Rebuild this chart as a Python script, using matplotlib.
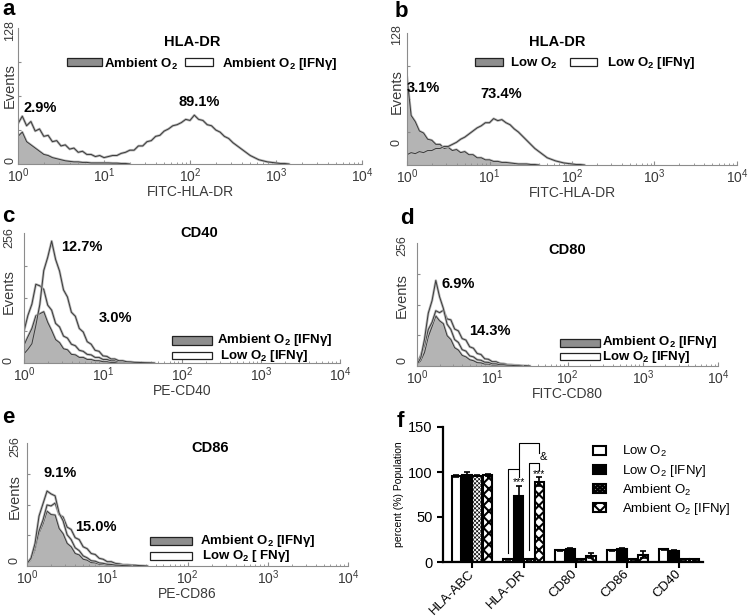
import numpy as np
import matplotlib.pyplot as plt
from matplotlib.patches import Rectangle

plt.rcParams['font.family'] = ['Liberation Sans', 'DejaVu Sans']
plt.rcParams['mathtext.fontset'] = 'custom'
plt.rcParams['mathtext.rm'] = 'Liberation Sans'
plt.rcParams['mathtext.it'] = 'Liberation Sans:italic'
plt.rcParams['mathtext.bf'] = 'Liberation Sans:bold'

W, H = 750, 616
STEP = 0.05  # channel width in decades, channels start at 10^0

# ---- histogram counts (events per channel) ----
# a: HLA-DR, ambient O2
a_amb = [26, 30, 21, 18, 15, 12, 9, 8, 6, 5, 4, 3, 2.5, 2, 2, 1.5, 1.5, 1, 1, 1,
         1, 1, 0.8, 0.8, 0.5, 0.5, 0]
a_amb_ifn = [38, 45, 36, 40, 31, 33, 26, 27, 21, 22, 17, 18, 14, 15, 11, 12, 9, 9,
             7, 8, 6, 7, 8, 8, 10, 11, 13, 13, 17, 17, 21, 22, 26, 27, 31, 33, 36,
             37, 39, 42, 41, 46, 42, 41, 37, 36, 32, 30, 26, 24, 20, 17, 14, 11, 8,
             6, 4, 3, 2, 1.5, 1, 0.5, 0.5, 0]
# b: HLA-DR, low O2
b_low = [85, 48, 42, 33, 31, 25, 24, 20, 20, 16, 17, 14, 15, 12, 13, 10, 10, 7, 7,
         5, 5, 3.5, 3.5, 2.5, 2.5, 2, 1.5, 1, 1, 1, 0.5, 0.5, 0]
b_low_ifn = [10, 12, 11, 13, 12, 14, 14, 16, 16, 18, 18, 20, 22, 25, 27, 30, 33, 36,
             38, 41, 41, 45, 43, 44, 41, 39, 35, 32, 28, 24, 20, 16, 13, 10, 7, 5.5,
             4, 3, 2, 1.5, 1, 0.5, 0.5, 0]
# c: CD40
c_amb_ifn = [35, 52, 68, 93, 97, 101, 80, 64, 46, 40, 28, 26, 17, 16, 11, 11, 7, 7,
             4.5, 4.5, 2.5, 2.5, 1.2, 1.2, 0.8, 0.5, 0]
c_low_ifn = [63, 94, 116, 155, 152, 145, 114, 104, 78, 71, 53, 49, 37, 34, 25, 23,
             17, 16, 11, 11, 7, 7, 4.5, 4.5, 2.5, 2.5, 1.5, 1.2, 0.8, 0.5, 0]
c_other = [18, 27, 38, 74, 115, 182, 208, 240, 204, 181, 144, 130, 100, 92, 68, 61,
           42, 37, 25, 23, 14, 13, 8, 8, 4.5, 4.5, 2.5, 2.2, 1.3, 1.1, 0.8, 0.6,
           0.4, 0]
# d: CD80
d_amb_ifn = [2, 11, 28, 61, 82, 104, 94, 88, 63, 55, 38, 33, 22, 19, 13, 11, 7, 6.5,
             4, 4, 2, 2, 1.2, 1.2, 0.5, 0]
d_low_ifn = [5, 22, 43, 76, 91, 115, 111, 116, 98, 96, 77, 73, 57, 54, 40, 37, 26,
             24, 15, 14, 9, 9, 5.5, 5, 3, 2.8, 1.8, 1.6, 0.8, 0.6, 0]
d_other = [3, 17, 56, 110, 136, 178, 144, 120, 87, 76, 55, 49, 34, 31, 21, 19, 13,
           12, 8, 7.5, 4.5, 4.5, 2.6, 2.6, 1.7, 1.5, 0.8, 0.6, 0]
# e: CD86
e_amb_ifn = [3, 13, 33, 68, 88, 114, 107, 106, 78, 67, 47, 40, 26, 23, 14, 12, 7,
             6.5, 3.6, 3.4, 1.8, 1.7, 0.9, 0.6, 0]
e_low_ifn = [5, 16, 38, 73, 96, 127, 125, 131, 107, 102, 81, 76, 59, 55, 40, 36, 26,
             24, 16, 14, 9, 9, 5.5, 4.5, 2.7, 2.7, 1.8, 1.6, 0.9, 0.6, 0]
e_other = [5, 16, 47, 104, 130, 156, 150, 146, 110, 94, 65, 55, 38, 32, 21, 17, 11,
           10, 6.5, 5.5, 3.6, 3.2, 1.8, 1.6, 0.9, 0.6, 0]

# ---- panel f ----
markers = ['HLA-ABC', 'HLA-DR', 'CD80', 'CD86', 'CD40']
low_o2 = [96, 3, 13, 13, 14]
low_o2_ifn = [97, 73, 15, 15, 12]
amb_o2 = [96, 3, 3, 3, 3]
amb_o2_ifn = [97, 89, 7, 8, 3]
low_o2_err = [1, 0.5, 0.5, 0.5, 0.5]
low_o2_ifn_err = [3, 12, 1, 1, 1]
amb_o2_err = [0.5, 0.5, 0.5, 0.5, 0.5]
amb_o2_ifn_err = [1, 5, 3, 4, 0.5]

TXT = '#3a3a3a'
AX = '#8c8c8c'


def fx(x):
    return x / W


def fy(y):
    return 1 - y / H


def rect(l, t, r, b):
    return [l / W, 1 - b / H, (r - l) / W, (b - t) / H]


def channels(vals):
    return 10 ** (STEP * np.arange(len(vals)))


fig = plt.figure(figsize=(7.5, 6.16), dpi=100)


def hist_axes(box, ymax, xlabel):
    ax = fig.add_axes(rect(*box))
    ax.set_xscale('log')
    ax.set_xlim(1, 1e4)
    ax.set_ylim(0, ymax)
    for s in ['top', 'right']:
        ax.spines[s].set_visible(False)
    for s in ['left', 'bottom']:
        ax.spines[s].set_color(AX)
        ax.spines[s].set_linewidth(0.8)
    ax.set_xticks([1, 10, 100, 1000, 10000])
    ax.set_xticklabels(['$10^0$', '$10^1$', '$10^2$', '$10^3$', '$10^4$'])
    ax.tick_params(axis='x', which='major', direction='in', length=3, color=AX,
                   labelcolor=TXT, labelsize=10, pad=2)
    ax.tick_params(axis='x', which='minor', direction='in', length=1.5, color=AX)
    ax.set_yticks([ymax / 4, ymax / 2, 3 * ymax / 4])
    ax.set_yticklabels([])
    ax.tick_params(axis='y', direction='in', length=2, color=AX)
    ax.set_xlabel(xlabel, color=TXT, fontsize=10, labelpad=0)
    return ax


def hist_line(ax, vals):
    x = channels(vals)
    ax.plot(x, vals, color='#b8b8b8', lw=1.8)
    ax.plot(x, vals, color='#3a3a3a', lw=0.7)


def hist_fill(ax, vals):
    x = channels(vals)
    ax.fill_between(x, vals, color='#b4b4b4', lw=0)
    hist_line(ax, vals)


def text(x, y, s, **kw):
    kw.setdefault('ha', 'center')
    kw.setdefault('va', 'center')
    fig.text(fx(x), fy(y), s, **kw)


def patch(l, t, r, b, color):
    fig.add_artist(Rectangle((fx(l), fy(b)), (r - l) / W, (b - t) / H,
                             transform=fig.transFigure, facecolor=color,
                             edgecolor='#222222', lw=0.9))


def yaxis_text(x, ytop, ybot, yev, top):
    text(x, ytop, top, rotation=90, color=TXT, fontsize=9)
    text(x, ybot, '0', rotation=90, color=TXT, fontsize=9)
    text(x, yev, 'Events', rotation=90, color=TXT, fontsize=10.5)


BOLD = dict(fontsize=10.5, weight='bold')
LEG = dict(fontsize=9.5, weight='bold', ha='left')
O2 = r'O$_\mathbf{2}$'

# ---- a ----
ax = hist_axes((18, 28, 362, 164), 128, 'FITC-HLA-DR')
hist_fill(ax, a_amb)
hist_line(ax, a_amb_ifn)
yaxis_text(10, 31, 160, 86, '128')
text(192, 42, 'HLA-DR', **BOLD)
patch(67, 58, 102, 66, '#8e8e8e')
text(104, 64, 'Ambient ' + O2, **LEG)
patch(185, 58, 213, 66, 'white')
text(222, 64, 'Ambient ' + O2 + ' [IFNγ]', **LEG)
text(40, 108, '2.9%', **BOLD)
text(199, 102, '89.1%', **BOLD)
text(2, 15, 'a', ha='left', va='baseline', fontsize=16, weight='bold')

# ---- b ----
ax = hist_axes((407, 33, 737, 165), 128, 'FITC-HLA-DR')
hist_fill(ax, b_low)
hist_line(ax, b_low_ifn)
yaxis_text(397, 35, 142, 92, '128')
text(557, 42, 'HLA-DR', **BOLD)
patch(475, 58, 503, 66, '#8e8e8e')
text(510, 63, 'Low ' + O2, **LEG)
patch(570, 58, 597, 66, 'white')
text(607, 63, 'Low ' + O2 + ' [IFNγ]', **LEG)
text(423, 88, '3.1%', **BOLD)
text(501, 94, '73.4%', **BOLD)
text(395, 17, 'b', ha='left', va='baseline', fontsize=16, weight='bold')

# ---- c ----
ax = hist_axes((24, 233, 340, 363), 256, 'PE-CD40')
hist_fill(ax, c_amb_ifn)
hist_line(ax, c_low_ifn)
hist_line(ax, c_other)
yaxis_text(9, 238, 360, 292, '256')
text(199, 233, 'CD40', **BOLD)
patch(172, 336, 212, 345, '#8e8e8e')
text(217, 340, 'Ambient ' + O2 + ' [IFNγ]', **LEG)
patch(172, 352, 212, 359, 'white')
text(220, 356, 'Low ' + O2 + ' [IFNγ]', **LEG)
text(82, 247, '12.7%', **BOLD)
text(115, 318, '3.0%', **BOLD)
text(2, 222, 'c', ha='left', va='baseline', fontsize=16, weight='bold')

# ---- d ----
ax = hist_axes((417, 243, 718, 366), 256, 'FITC-CD80')
hist_fill(ax, d_amb_ifn)
hist_line(ax, d_low_ifn)
hist_line(ax, d_other)
yaxis_text(402, 246, 360, 296, '256')
text(567, 250, 'CD80', **BOLD)
patch(560, 339, 600, 347, '#8e8e8e')
text(602, 342, 'Ambient ' + O2 + ' [IFNγ]', **LEG)
patch(560, 353, 600, 360, 'white')
text(602, 357, 'Low ' + O2 + ' [IFNγ]', **LEG)
text(458, 284, '6.9%', **BOLD)
text(490, 331, '14.3%', **BOLD)
text(400, 224, 'd', ha='left', va='baseline', fontsize=16, weight='bold')

# ---- e ----
ax = hist_axes((27, 443, 348, 566), 256, 'PE-CD86')
hist_fill(ax, e_amb_ifn)
hist_line(ax, e_low_ifn)
hist_line(ax, e_other)
yaxis_text(15, 447, 560, 497, '256')
text(210, 448, 'CD86', **BOLD)
patch(150, 537, 192, 545, '#8e8e8e')
text(200, 541, 'Ambient ' + O2 + ' [IFNγ]', **LEG)
patch(150, 552, 192, 560, 'white')
text(202, 556, 'Low ' + O2 + ' [ FNγ]', **LEG)
text(60, 473, '9.1%', **BOLD)
text(96, 527, '15.0%', **BOLD)
text(2, 423, 'e', ha='left', va='baseline', fontsize=16, weight='bold')

# ---- f ----
ax = fig.add_axes(rect(443, 427, 703, 562))
pos = np.arange(len(markers))
w = 0.2
series = [
    (low_o2, low_o2_err, 'white', '', 'Low O$_2$'),
    (low_o2_ifn, low_o2_ifn_err, 'black', '', r'Low O$_2$ [IFN$\gamma$]'),
    (amb_o2, amb_o2_err, 'white', 'xxxxxxxx', 'Ambient O$_2$'),
    (amb_o2_ifn, amb_o2_ifn_err, 'white', 'xxx', r'Ambient O$_2$ [IFN$\gamma$]'),
]
handles = []
for k, (vals, err, fc, hatch, lab) in enumerate(series):
    plt.rcParams['hatch.linewidth'] = 0.45 if hatch == 'xxxxxxxx' else 1.5
    bars = ax.bar(pos + (k - 1.5) * w, vals, w * 0.92, yerr=err, color=fc,
                  edgecolor='black', linewidth=1.5, hatch=hatch, label=lab,
                  error_kw=dict(elinewidth=1.2, capsize=2.5, capthick=1.2))
    handles.append(bars)

# significance brackets on HLA-DR
bx = pos[1] + (np.arange(4) - 1.5) * w
ax.plot([bx[0], bx[0], bx[1], bx[1]], [10, 103, 103, 94], color='black', lw=0.8)
ax.plot([bx[2], bx[2], bx[3], bx[3]], [13, 110, 110, 102], color='black', lw=0.8)
ax.plot([bx[1], bx[1], bx[3], bx[3]], [103, 132, 132, 121], color='black', lw=0.8)
ax.text(bx[1], 89, '***', ha='center', va='center', fontsize=7.5)
ax.text(bx[3], 98, '***', ha='center', va='center', fontsize=7.5)
ax.text(bx[3] + 0.08, 117, '&', ha='center', va='center', fontsize=8)

ax.set_xlim(-0.56, 4.46)
ax.set_ylim(0, 150)
ax.set_yticks([0, 50, 100, 150])
ax.set_xticks(pos)
ax.set_xticklabels(markers, rotation=45, ha='right', va='center',
                   rotation_mode='anchor', fontsize=9.5)
ax.tick_params(axis='both', width=1.5, length=4, labelsize=10.5)
ax.tick_params(axis='x', labelsize=9.5, pad=3)
for s in ['top', 'right']:
    ax.spines[s].set_visible(False)
for s in ['left', 'bottom']:
    ax.spines[s].set_linewidth(1.6)
ax.set_ylabel('percent (%) Population', fontsize=7.5, labelpad=3)
ax.legend(handles=handles, loc='upper left', bbox_to_anchor=(fx(593), fy(444)),
          bbox_transform=fig.transFigure, frameon=False, fontsize=9.5,
          handlelength=1.0, handleheight=0.65, handletextpad=1.2,
          labelspacing=0.28, borderpad=0, borderaxespad=0)
text(397, 427, 'f', ha='left', va='baseline', fontsize=16, weight='bold')

fig.savefig('out.png', dpi=100)
